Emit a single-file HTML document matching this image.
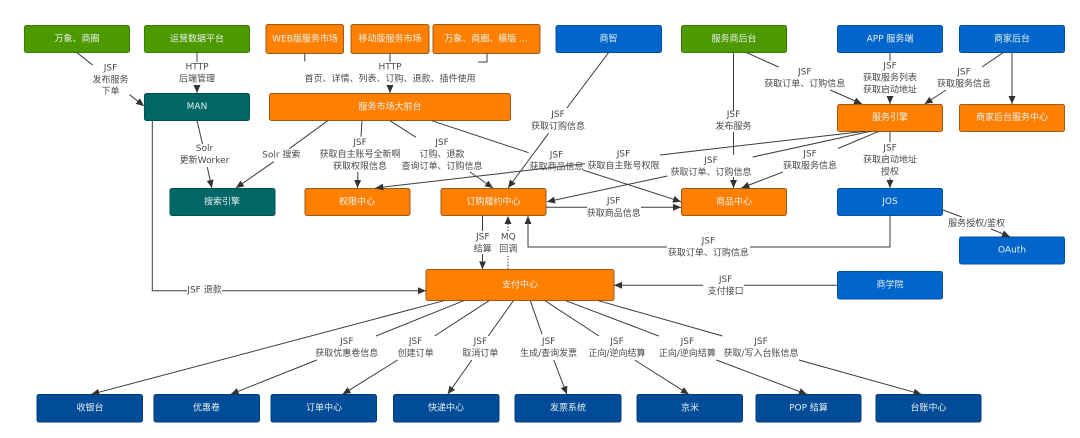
<!DOCTYPE html>
<html lang="zh"><head><meta charset="utf-8"><style>
html,body{margin:0;padding:0;background:#fff}
svg{display:block}
text{font-family:"DejaVu Sans","Noto Sans CJK SC",sans-serif;font-size:9px;text-anchor:middle;dominant-baseline:central}
.l text,text.l{fill:#4a4a4a}
.b text{fill:#e8f0ee}
.g rect{fill:#4d9900;stroke:#3c7a00}
.o rect{fill:#ff8000;stroke:#9c5a14}
.t rect{fill:#006666;stroke:#005252}
.u rect{fill:#0066cc;stroke:#0052a3}
.d rect{fill:#004c99;stroke:#003d7a}
line,polyline{stroke:#3c3c3c;stroke-width:1;fill:none}
</style></head><body>
<svg width="1080" height="438" viewBox="0 0 1080 438" xmlns="http://www.w3.org/2000/svg" style="filter:blur(.35px)">
<defs><marker id="a" markerUnits="userSpaceOnUse" markerWidth="9" markerHeight="8" refX="8" refY="3.5" orient="auto"><path d="M0 0L8 3.5L0 7Z" fill="#333"/></marker></defs>

<g class="b">
<g class="g"><rect x="24.5" y="25.5" width="105" height="27" rx="2"/><text x="77" y="39.5">万象、商圈</text></g>
<g class="g"><rect x="144.5" y="25.5" width="105" height="27" rx="2"/><text x="197" y="39.5">运营数据平台</text></g>
<g class="o"><rect x="266" y="24.5" width="77.5" height="29" rx="2"/><text x="305" y="39.5">WEB版服务市场</text></g>
<g class="o"><rect x="351" y="24.5" width="78" height="29" rx="2"/><text x="390" y="39.5">移动版服务市场</text></g>
<g class="o"><rect x="433" y="24.5" width="107" height="29" rx="2"/><text x="486" y="39.5">万象、商圈、模版 ...</text></g>
<g class="u"><rect x="556" y="25.5" width="105.5" height="27" rx="2"/><text x="608.5" y="39.5">商智</text></g>
<g class="g"><rect x="681.5" y="25.5" width="105" height="27" rx="2"/><text x="734" y="39.5">服务商后台</text></g>
<g class="u"><rect x="837.5" y="25.5" width="105" height="27" rx="2"/><text x="890" y="39.5">APP 服务端</text></g>
<g class="u"><rect x="959.5" y="25.5" width="105" height="27" rx="2"/><text x="1012" y="39.5">商家后台</text></g>
<g class="t"><rect x="144.5" y="93.5" width="105" height="27" rx="2"/><text x="197" y="107">MAN</text></g>
<g class="o"><rect x="269.5" y="93.5" width="241" height="27" rx="2"/><text x="390" y="107.5">服务市场大前台</text></g>
<g class="o"><rect x="837.5" y="104.5" width="105" height="27" rx="2"/><text x="890" y="118">服务引擎</text></g>
<g class="o"><rect x="959.5" y="104.5" width="105" height="27" rx="2"/><text x="1012" y="118">商家后台服务中心</text></g>
<g class="t"><rect x="170" y="188.5" width="105" height="27" rx="2"/><text x="222" y="202.5">搜索引擎</text></g>
<g class="o"><rect x="305" y="188.5" width="105" height="27" rx="2"/><text x="357" y="202.5">权限中心</text></g>
<g class="o"><rect x="441" y="188.5" width="105" height="27" rx="2"/><text x="493.5" y="202.5">订购履约中心</text></g>
<g class="o"><rect x="681.5" y="188.5" width="105" height="27" rx="2"/><text x="734" y="202.5">商品中心</text></g>
<g class="u"><rect x="837.5" y="188.5" width="105" height="27" rx="2"/><text x="890" y="202">JOS</text></g>
<g class="u"><rect x="959.5" y="237" width="105" height="27" rx="2"/><text x="1012" y="250.5">OAuth</text></g>
<g class="o"><rect x="426" y="269.5" width="188" height="31" rx="2"/><text x="520" y="285.5">支付中心</text></g>
<g class="u"><rect x="837.5" y="271.5" width="105" height="27.5" rx="2"/><text x="890" y="285.5">商学院</text></g>
<g class="d"><rect x="37" y="394.5" width="105.5" height="27.5" rx="2"/><text x="90" y="408.5">收银台</text></g>
<g class="d"><rect x="154" y="394.5" width="105.5" height="27.5" rx="2"/><text x="206.5" y="408.5">优惠卷</text></g>
<g class="d"><rect x="271" y="394.5" width="105.5" height="27.5" rx="2"/><text x="324" y="408.5">订单中心</text></g>
<g class="d"><rect x="393.5" y="394.5" width="105.5" height="27.5" rx="2"/><text x="446" y="408.5">快递中心</text></g>
<g class="d"><rect x="515" y="394.5" width="106" height="27.5" rx="2"/><text x="568" y="408.5">发票系统</text></g>
<g class="d"><rect x="637" y="394.5" width="105.5" height="27.5" rx="2"/><text x="690" y="408.5">京米</text></g>
<g class="d"><rect x="756" y="394.5" width="105" height="27.5" rx="2"/><text x="808.5" y="408.5">POP 结算</text></g>
<g class="d"><rect x="876" y="394.5" width="105" height="27.5" rx="2"/><text x="928.5" y="408.5">台账中心</text></g>
</g>

<g>
<line x1="77" y1="52.7" x2="92.6" y2="65"/><line x1="129.5" y1="94.7" x2="144" y2="106" marker-end="url(#a)"/>
<line x1="197" y1="52.7" x2="197" y2="62"/><line x1="197" y1="85" x2="197" y2="93" marker-end="url(#a)"/>
<line x1="304.8" y1="53.3" x2="304.8" y2="61.3"/>
<line x1="390" y1="53.3" x2="390" y2="62"/><line x1="390" y1="85" x2="390" y2="93" marker-end="url(#a)"/>
<polyline points="487,53.3 487,62 478,62"/>
<line x1="197" y1="120.7" x2="202.5" y2="144"/><line x1="207.3" y1="167" x2="211.8" y2="188" marker-end="url(#a)"/>
<line x1="327.8" y1="120.7" x2="289.3" y2="148.7"/><line x1="273.8" y1="161.7" x2="235.9" y2="188" marker-end="url(#a)"/>
<line x1="362" y1="120.7" x2="361" y2="136.7"/><line x1="358" y1="172" x2="357.4" y2="188" marker-end="url(#a)"/>
<line x1="390" y1="120.7" x2="416" y2="137.3"/><line x1="470" y1="172" x2="493" y2="188" marker-end="url(#a)"/>
<line x1="431.8" y1="120.7" x2="528.6" y2="152.7"/><line x1="583" y1="170" x2="681" y2="201.7" marker-end="url(#a)"/>
<line x1="608.5" y1="52.7" x2="566.9" y2="108"/><line x1="548.6" y1="133.3" x2="508" y2="188" marker-end="url(#a)"/>
<line x1="733.5" y1="52.7" x2="733.5" y2="111"/><line x1="733.5" y1="132" x2="733.5" y2="155"/><line x1="733.5" y1="177" x2="733.5" y2="188" marker-end="url(#a)"/>
<line x1="746.6" y1="52.7" x2="778.6" y2="67"/><line x1="830.3" y1="90" x2="862" y2="104" marker-end="url(#a)"/>
<line x1="890" y1="52.7" x2="890" y2="61"/><line x1="890" y1="96" x2="890" y2="104" marker-end="url(#a)"/>
<line x1="1003" y1="52.7" x2="982" y2="67"/><line x1="946" y1="90" x2="924.6" y2="104" marker-end="url(#a)"/>
<line x1="1012" y1="52.7" x2="1012" y2="104" marker-end="url(#a)"/>
<line x1="865" y1="131.3" x2="660" y2="155"/><line x1="585" y1="163.7" x2="375.3" y2="188" marker-end="url(#a)"/>
<line x1="870.6" y1="131.3" x2="752.8" y2="157"/><line x1="667.4" y1="176" x2="547" y2="201.7" marker-end="url(#a)"/>
<line x1="879" y1="131.3" x2="838" y2="148.5"/><line x1="782.8" y1="172" x2="741.4" y2="188" marker-end="url(#a)"/>
<line x1="890" y1="131.3" x2="890" y2="142"/><line x1="890" y1="178" x2="890" y2="188" marker-end="url(#a)"/>
<line x1="943" y1="210" x2="962" y2="217"/><line x1="991" y1="229" x2="1010" y2="236.7" marker-end="url(#a)"/>
<polyline points="890,215.3 890,247 750,247"/><polyline points="667,247 528,247 528,216" marker-end="url(#a)"/>
<line x1="546" y1="207.3" x2="587" y2="207.3"/><line x1="641" y1="207.3" x2="681" y2="207.3" marker-end="url(#a)"/>
<line x1="482.5" y1="215.3" x2="482.5" y2="231"/><line x1="482.5" y1="254" x2="482.5" y2="269.3" marker-end="url(#a)"/>
<line x1="508" y1="269.3" x2="508" y2="256" stroke-dasharray="1.5 1.5"/><line x1="508" y1="231" x2="508" y2="216" stroke-dasharray="1.5 1.5" marker-end="url(#a)"/>
<polyline points="152.3,120.7 152.3,290.7 187,290.7"/><line x1="222" y1="290.7" x2="426" y2="290.7" marker-end="url(#a)"/>
<line x1="837" y1="285.3" x2="744" y2="285.3"/><line x1="703" y1="285.3" x2="614" y2="285.3" marker-end="url(#a)"/>
<line x1="444" y1="300.7" x2="91.3" y2="394.3" marker-end="url(#a)"/>
<line x1="463.8" y1="300.7" x2="376" y2="336"/><line x1="316.8" y1="360" x2="230.7" y2="394.3" marker-end="url(#a)"/>
<line x1="489" y1="300.7" x2="434.6" y2="336"/><line x1="397.7" y1="360" x2="342.6" y2="394.3" marker-end="url(#a)"/>
<line x1="513.4" y1="300.7" x2="488.3" y2="336"/><line x1="471.8" y1="360" x2="447.7" y2="394.3" marker-end="url(#a)"/>
<line x1="530.3" y1="300.7" x2="542" y2="334"/><line x1="553.8" y1="360" x2="566.9" y2="394.3" marker-end="url(#a)"/>
<line x1="545" y1="300.7" x2="599" y2="336"/><line x1="634.7" y1="360" x2="688.8" y2="394.3" marker-end="url(#a)"/>
<line x1="565.8" y1="300.7" x2="658.8" y2="336"/><line x1="716.3" y1="360" x2="806.9" y2="394.3" marker-end="url(#a)"/>
<line x1="598.5" y1="300.7" x2="722.5" y2="336"/><line x1="799" y1="360" x2="921.5" y2="394.3" marker-end="url(#a)"/>
</g>

<g class="l">
<text x="110.5" y="68.3">JSF</text><text x="110.5" y="80.3">发布服务</text><text x="110.5" y="92">下单</text>
<text x="197" y="67.3">HTTP</text><text x="197" y="79.3">后端管理</text>
<text x="390" y="67.3">HTTP</text><text x="390" y="79.7">首页、详情、列表、订购、退款、插件使用</text>
<text x="204.5" y="149">Solr</text><text x="204.5" y="161">更新Worker</text>
<text x="281.3" y="155.3">Solr 搜索</text>
<text x="360" y="143">JSF</text><text x="360" y="155">获取自主账号全新啊</text><text x="360" y="167">获取权限信息</text>
<text x="442" y="143">JSF</text><text x="442" y="155">订购、退款</text><text x="442" y="167">查询订单、订购信息</text>
<text x="558" y="115">JSF</text><text x="558" y="127">获取订购信息</text>
<text x="733.5" y="115">JSF</text><text x="733.5" y="127">发布服务</text>
<text x="804.8" y="72.7">JSF</text><text x="804.8" y="84.7">获取订单、订购信息</text>
<text x="890" y="66.7">JSF</text><text x="890" y="78.7">获取服务列表</text><text x="890" y="90.7">获取启动地址</text>
<text x="964" y="72.7">JSF</text><text x="964" y="84.7">获取服务信息</text>
<text x="556.5" y="155.7">JSF</text><text x="556.5" y="167.5">获取商品信息</text>
<text x="623.5" y="154.3">JSF</text><text x="623.5" y="166.3">获取自主账号权限</text>
<text x="711" y="161">JSF</text><text x="711" y="173">获取订单、订购信息</text>
<text x="810" y="154.3">JSF</text><text x="810" y="166.3">获取服务信息</text>
<text x="890" y="148.7">JSF</text><text x="890" y="160.7">获取启动地址</text><text x="890" y="172.7">授权</text>
<text x="613.7" y="201.7">JSF</text><text x="613.7" y="214">获取商品信息</text>
<text x="976.6" y="224">服务授权/鉴权</text>
<text x="708.4" y="241.7">JSF</text><text x="708.4" y="253.7">获取订单、订购信息</text>
<text x="482.8" y="237.3">JSF</text><text x="482.8" y="249.3">结算</text>
<text x="508.3" y="237.3">MQ</text><text x="508.3" y="249.3">回调</text>
<text x="204.5" y="290.7">JSF 退款</text>
<text x="725.6" y="280">JSF</text><text x="725.6" y="292">支付接口</text>
<text x="346.8" y="342">JSF</text><text x="346.8" y="354">获取优惠卷信息</text>
<text x="415.6" y="342">JSF</text><text x="415.6" y="354">创建订单</text>
<text x="480.4" y="342">JSF</text><text x="480.4" y="354">取消订单</text>
<text x="548.6" y="342">JSF</text><text x="548.6" y="354">生成/查询发票</text>
<text x="617" y="342">JSF</text><text x="617" y="354">正向/逆向结算</text>
<text x="687.4" y="342">JSF</text><text x="687.4" y="354">正向/逆向结算</text>
<text x="761" y="342">JSF</text><text x="761" y="354">获取/写入台账信息</text>
</g>
</svg>
</body></html>
